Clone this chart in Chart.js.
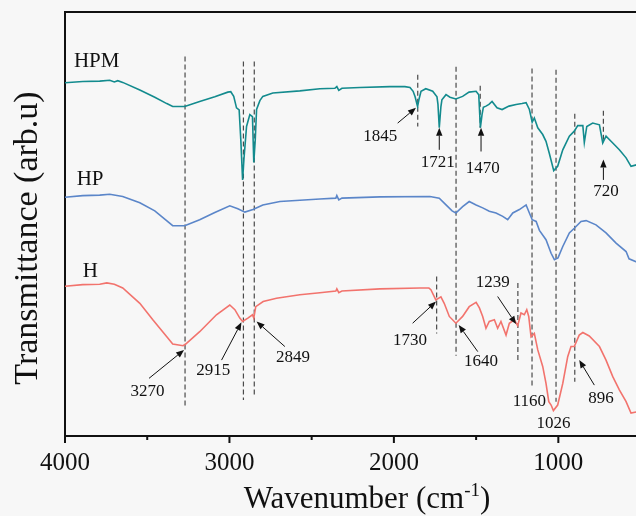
<!DOCTYPE html>
<html>
<head>
<meta charset="utf-8">
<script src="https://cdn.jsdelivr.net/npm/chart.js@4.4.0/dist/chart.umd.min.js"></script>
<style>
  html, body { margin: 0; padding: 0; background: #f7f7f7; overflow: hidden; }
  #caixa { width: 660px; height: 516px; }
</style>
</head>
<body>
<div id="caixa"><canvas id="grafico" width="660" height="516"></canvas></div>
<script>
// espectros (numero de onda, transmitancia em unidades arbitrarias)
const hpmWn = [4000, 3892, 3789, 3728, 3700, 3679, 3649, 3545, 3454, 3381, 3345, 3272, 3181, 3089, 3010, 2992, 2974, 2957, 2941, 2931, 2920, 2912, 2896, 2876, 2860, 2852, 2843, 2835, 2815, 2797, 2736, 2572, 2450, 2359, 2347, 2335, 2316, 2207, 2024, 1933, 1902, 1883, 1871, 1856, 1848, 1835, 1806, 1764, 1738, 1732, 1724, 1714, 1708, 1683, 1659, 1623, 1582, 1543, 1500, 1484, 1474, 1464, 1456, 1440, 1422, 1403, 1373, 1342, 1300, 1257, 1221, 1196, 1176, 1159, 1146, 1125, 1095, 1075, 1055, 1028, 1004, 973, 933, 903, 882, 851, 842, 827, 791, 750, 730, 710, 669, 629, 588, 558, 520];
const hpmT = [83.3, 83.6, 83.7, 83.9, 83.5, 83.8, 83.4, 81.6, 79.9, 78.4, 77.7, 77.7, 78.9, 80.0, 81.1, 81.2, 80.1, 77.4, 76.9, 69.9, 60.4, 65.2, 73.0, 75.8, 75.3, 64.5, 69.9, 77.0, 79.1, 80.1, 80.9, 81.4, 81.9, 82.0, 82.4, 81.5, 82.0, 82.2, 82.4, 82.4, 82.2, 81.3, 80.0, 77.7, 79.3, 81.3, 81.9, 81.3, 80.0, 78.2, 72.7, 77.7, 79.3, 80.5, 79.9, 79.5, 80.1, 81.1, 81.3, 80.5, 72.7, 75.8, 77.5, 77.8, 78.2, 78.9, 77.4, 77.0, 77.8, 78.2, 78.4, 78.6, 77.0, 74.0, 75.0, 72.7, 71.1, 69.5, 66.7, 62.6, 63.6, 67.5, 70.7, 71.9, 73.2, 73.2, 69.2, 73.0, 73.8, 73.4, 69.1, 70.7, 69.1, 67.5, 65.6, 63.6, 64.0];

const hpWn = [4000, 3892, 3789, 3728, 3649, 3545, 3454, 3345, 3272, 3181, 3089, 2998, 2949, 2906, 2857, 2797, 2693, 2450, 2353, 2347, 2335, 2316, 2085, 1781, 1724, 1683, 1646, 1623, 1582, 1542, 1500, 1460, 1420, 1379, 1338, 1308, 1277, 1237, 1196, 1176, 1159, 1135, 1115, 1075, 1044, 1024, 1002, 973, 933, 903, 862, 831, 771, 710, 649, 588, 570, 520];
const hpT = [56.3, 56.7, 56.8, 57.0, 56.5, 55.0, 53.1, 49.6, 49.6, 51.0, 52.7, 54.3, 53.6, 52.8, 53.4, 54.5, 55.3, 55.9, 56.1, 56.7, 55.7, 56.1, 56.4, 56.5, 56.1, 54.5, 53.1, 52.6, 54.1, 55.3, 54.5, 53.8, 53.0, 52.6, 51.8, 51.0, 52.6, 53.4, 54.5, 52.6, 51.0, 50.6, 48.5, 46.3, 43.1, 41.6, 42.0, 44.7, 47.9, 49.0, 50.6, 50.8, 49.8, 47.9, 45.5, 43.5, 41.8, 41.0];

const hWn = [4000, 3892, 3789, 3746, 3700, 3649, 3545, 3466, 3381, 3345, 3282, 3266, 3181, 3079, 2998, 2967, 2937, 2920, 2888, 2860, 2852, 2840, 2795, 2714, 2572, 2450, 2353, 2347, 2335, 2316, 2085, 1842, 1787, 1775, 1745, 1714, 1694, 1663, 1623, 1582, 1542, 1500, 1480, 1460, 1440, 1420, 1389, 1369, 1349, 1318, 1298, 1268, 1247, 1227, 1207, 1192, 1180, 1166, 1146, 1125, 1095, 1075, 1058, 1044, 1030, 1004, 973, 943, 923, 903, 873, 851, 812, 750, 710, 669, 629, 588, 558, 520];
const hT = [35.3, 35.7, 35.8, 36.1, 35.8, 34.9, 31.3, 27.4, 23.4, 21.7, 21.3, 21.7, 24.6, 28.6, 30.9, 29.8, 27.8, 27.0, 27.8, 28.6, 27.8, 30.5, 31.7, 32.5, 33.3, 33.8, 34.2, 34.7, 33.8, 34.2, 34.7, 34.9, 34.9, 34.5, 32.1, 32.8, 31.3, 28.2, 26.6, 28.2, 30.5, 31.5, 30.2, 28.2, 25.4, 27.0, 27.4, 25.4, 27.0, 23.8, 26.6, 27.4, 26.0, 29.0, 28.6, 29.8, 28.2, 23.4, 24.2, 20.3, 16.4, 12.4, 8.1, 7.3, 6.0, 7.3, 12.4, 18.7, 21.1, 21.1, 23.8, 24.4, 23.6, 21.1, 17.9, 14.0, 10.9, 8.1, 5.4, 5.7];

const seriesNames = ["HPM", "HP", "H"];
const seriesLabelWn = [3946, 3929, 3892];
const seriesLabelT = [88.4, 60.4, 38.8];

// linhas tracejadas de referencia
const dashWn = [3270, 2915, 2849, 1855, 1622, 1475, 1160, 1014, 900, 726, 1740, 1246];
const dashTop = [89.5, 88.3, 88.3, 85.2, 87.1, 82.6, 86.7, 86.4, 76.0, 76.7, 37.6, 36.1];
const dashBottom = [6.9, 8.5, 9.3, 73.0, 18.9, 72.7, 11.5, 8.1, 12.8, 69.1, 24.2, 17.9];

// rotulos dos picos e setas (cauda -> ponta)
const peakText = ["1845", "1721", "1470", "720", "3270", "2915", "2849", "1730", "1640", "1239", "1160", "1026", "896"];
const peakWn = [2083, 1734, 1460, 710, 3499, 3099, 2613, 1902, 1470, 1399, 1176, 1030, 740];
const peakT = [70.7, 64.4, 63.2, 57.7, 10.5, 15.4, 18.6, 22.5, 17.5, 36.2, 8.1, 3.0, 8.9];
const arrowFrom = [[1977, 73.8], [1724, 67.5], [1470, 67.1], [726, 60.4], [3489, 13.6], [3048, 17.9], [2663, 21.1], [1886, 26.6], [1490, 19.9], [1369, 32.9], null, null, [781, 12.0]];
const arrowTo = [[1866, 77.4], [1724, 72.7], [1470, 72.7], [726, 65.2], [3276, 20.3], [2927, 26.8], [2835, 27.0], [1744, 31.7], [1606, 26.2], [1257, 26.4], null, null, [873, 17.9]];

const tickVals = [4000, 3500, 3000, 2500, 2000, 1500, 1000, 500];

const SERIF = "'Liberation Serif', 'Times New Roman', serif";

function serie(wn, t, cor) {
  return {
    data: wn.map((w, i) => ({ x: w, y: t[i] })),
    borderColor: cor,
    borderWidth: 1.6,
    pointRadius: 0,
    tension: 0
  };
}

const datasets = [
  serie(hpmWn, hpmT, "#138b8e"),
  serie(hpWn, hpT, "#5b86c9"),
  serie(hWn, hT, "#f2736d")
];

dashWn.forEach((w, i) => {
  datasets.push({
    data: [{ x: w, y: dashTop[i] }, { x: w, y: dashBottom[i] }],
    borderColor: "#4a4a4a",
    borderWidth: 1.2,
    borderDash: [5, 3],
    pointRadius: 0
  });
});

function seta(ctx, x0, y0, x1, y1) {
  const ang = Math.atan2(y1 - y0, x1 - x0);
  const L = 8, W = 3.2;
  ctx.beginPath();
  ctx.moveTo(x0, y0);
  ctx.lineTo(x1 - L * Math.cos(ang), y1 - L * Math.sin(ang));
  ctx.stroke();
  ctx.beginPath();
  ctx.moveTo(x1, y1);
  ctx.lineTo(x1 - L * Math.cos(ang) + W * Math.sin(ang), y1 - L * Math.sin(ang) - W * Math.cos(ang));
  ctx.lineTo(x1 - L * Math.cos(ang) - W * Math.sin(ang), y1 - L * Math.sin(ang) + W * Math.cos(ang));
  ctx.closePath();
  ctx.fill();
}

const moldura = {
  id: "moldura",
  afterDraw(chart) {
    const { ctx, chartArea: a, scales: { x, y } } = chart;
    ctx.save();
    ctx.strokeStyle = "#111";
    ctx.fillStyle = "#111";
    ctx.lineWidth = 2;

    // borda de cima e da direita
    ctx.beginPath();
    ctx.moveTo(a.left - 1, a.top);
    ctx.lineTo(a.right, a.top);
    ctx.lineTo(a.right, a.bottom);
    ctx.stroke();

    // marcas do eixo x
    tickVals.forEach(v => {
      const px = x.getPixelForValue(v);
      const len = v % 1000 === 0 ? 7 : 4;
      ctx.beginPath();
      ctx.moveTo(px, a.bottom);
      ctx.lineTo(px, a.bottom + len);
      ctx.stroke();
    });

    // nomes das series
    ctx.font = "21px " + SERIF;
    ctx.textAlign = "left";
    ctx.textBaseline = "middle";
    seriesNames.forEach((n, i) => {
      ctx.fillText(n, x.getPixelForValue(seriesLabelWn[i]), y.getPixelForValue(seriesLabelT[i]));
    });

    // setas e rotulos dos picos
    ctx.lineWidth = 1;
    ctx.font = "17px " + SERIF;
    ctx.textAlign = "center";
    peakText.forEach((txt, i) => {
      ctx.fillText(txt, x.getPixelForValue(peakWn[i]), y.getPixelForValue(peakT[i]));
      if (arrowFrom[i]) {
        seta(ctx,
          x.getPixelForValue(arrowFrom[i][0]), y.getPixelForValue(arrowFrom[i][1]),
          x.getPixelForValue(arrowTo[i][0]), y.getPixelForValue(arrowTo[i][1]));
      }
    });

    // titulo do eixo y
    ctx.save();
    ctx.translate(28, 238);
    ctx.rotate(-Math.PI / 2);
    ctx.font = "34px " + SERIF;
    ctx.textAlign = "center";
    ctx.textBaseline = "middle";
    ctx.fillText("Transmittance (arb.u)", 0, 0);
    ctx.restore();

    // titulo do eixo x com expoente
    const base = "Wavenumber (cm";
    const sup = "-1";
    const fim = ")";
    ctx.textAlign = "left";
    ctx.textBaseline = "alphabetic";
    ctx.font = "31px " + SERIF;
    const wBase = ctx.measureText(base).width;
    const wFim = ctx.measureText(fim).width;
    ctx.font = "19px " + SERIF;
    const wSup = ctx.measureText(sup).width;
    let xi = 367 - (wBase + wSup + wFim) / 2;
    ctx.font = "31px " + SERIF;
    ctx.fillText(base, xi, 508);
    xi += wBase;
    ctx.font = "19px " + SERIF;
    ctx.fillText(sup, xi, 496);
    xi += wSup;
    ctx.font = "31px " + SERIF;
    ctx.fillText(fim, xi, 508);

    ctx.restore();
  }
};

const ctx = document.getElementById("grafico").getContext("2d");

new Chart(ctx, {
  type: "line",
  data: { datasets },
  options: {
    responsive: false,
    animation: false,
    events: [],
    layout: { padding: { top: 12, right: 3, left: 0, bottom: 0 } },
    plugins: {
      legend: { display: false },
      tooltip: { enabled: false }
    },
    scales: {
      x: {
        type: "linear",
        reverse: true,
        min: 400,
        max: 4000,
        afterBuildTicks: s => { s.ticks = tickVals.map(v => ({ value: v })); },
        afterFit: s => { s.height = 80; },
        grid: { display: false, drawTicks: false },
        border: { display: true, color: "#111", width: 2 },
        ticks: {
          font: { family: SERIF, size: 25 },
          color: "#111",
          padding: 12,
          maxRotation: 0,
          autoSkip: false,
          callback: v => (v % 1000 === 0 ? String(v) : "")
        }
      },
      y: {
        type: "linear",
        min: 0,
        max: 100,
        afterFit: s => { s.width = 65; },
        grid: { display: false },
        border: { display: true, color: "#111", width: 2 },
        ticks: { display: false }
      }
    }
  },
  plugins: [moldura]
});
</script>
</body>
</html>
